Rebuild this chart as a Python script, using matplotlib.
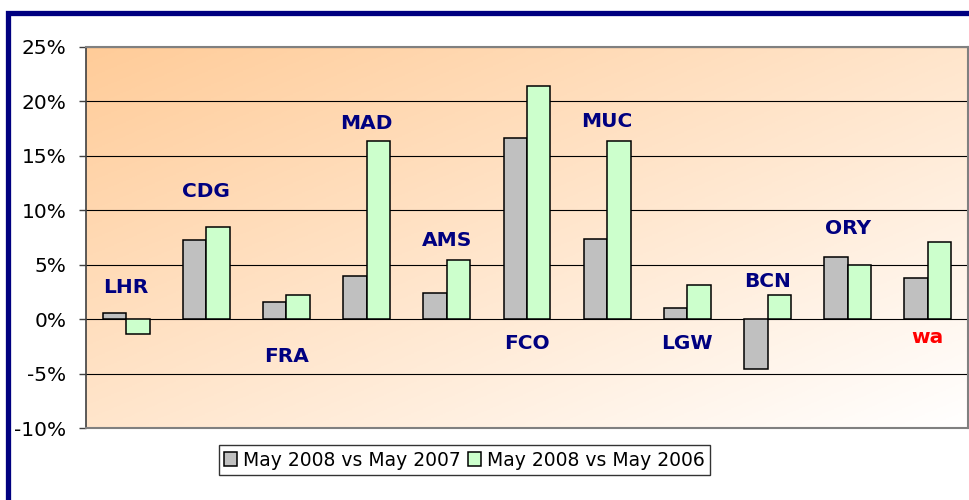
import numpy as np
import matplotlib.pyplot as plt
from matplotlib.patches import Rectangle
from matplotlib.colors import LinearSegmentedColormap
from matplotlib.ticker import FuncFormatter

airports = ['LHR', 'CDG', 'FRA', 'MAD', 'AMS', 'FCO', 'MUC', 'LGW', 'BCN', 'ORY', 'wa']
vs2007 = [0.6, 7.3, 1.6, 4.0, 2.4, 16.6, 7.4, 1.0, -4.6, 5.7, 3.8]
vs2006 = [-1.4, 8.5, 2.2, 16.4, 5.4, 21.4, 16.4, 3.1, 2.2, 5.0, 7.1]
label_y = [2.9, 11.7, -3.4, 18.0, 7.2, -2.2, 18.2, -2.2, 3.5, 8.3, -1.7]
label_col = ['#000080'] * 10 + ['#FF0000']
series = ['May 2008 vs May 2007', 'May 2008 vs May 2006']

fig = plt.figure(figsize=(9.7, 5.0), dpi=100)
ax = fig.add_axes([86/970, 72/500, 882/970, 381/500])

# diagonal gradient background, orange top-left -> white bottom-right
u, v = np.meshgrid(np.linspace(0, 1, 300), np.linspace(0, 1, 300))
grad = (u + v) / 2
cmap = LinearSegmentedColormap.from_list('bg', ['#FFCC99', '#FFFFFF'])
ax.imshow(grad, cmap=cmap, extent=[0, 1, 0, 1], origin='upper',
          transform=ax.transAxes, aspect='auto', zorder=0)

x = np.arange(len(airports))
w = 0.293
ax.bar(x - w/2, vs2007, w, color='#C0C0C0', edgecolor='black', linewidth=1.1,
       label=series[0], zorder=3)
ax.bar(x + w/2, vs2006, w, color='#CCFFCC', edgecolor='black', linewidth=1.1,
       label=series[1], zorder=3)

for i, name in enumerate(airports):
    ax.text(x[i], label_y[i], name, ha='center', va='center', fontsize=14.5,
            fontweight='bold', color=label_col[i], zorder=4)

ax.set_xlim(-0.5, len(airports) - 0.5)
ax.set_ylim(-10, 25)
ax.set_yticks(np.arange(-10, 26, 5))
ax.yaxis.set_major_formatter(FuncFormatter(lambda val, p: f'{val:.0f}%'))
ax.tick_params(axis='y', labelsize=14.5, length=5, width=1, pad=9, color='#404040')
ax.set_xticks([])
ax.grid(axis='y', color='black', linewidth=0.8, zorder=1)
ax.set_axisbelow(True)

for s in ['top', 'right', 'bottom']:
    ax.spines[s].set_color('#808080')
    ax.spines[s].set_linewidth(1.5)
ax.spines['left'].set_color('#404040')
ax.spines['left'].set_linewidth(1.2)

leg = fig.legend(loc='center', bbox_to_anchor=(464.5/970, 0.08), ncol=2,
                 fontsize=13.5, frameon=True, fancybox=False, edgecolor='black',
                 handlelength=0.7, handleheight=0.7, handletextpad=0.3,
                 columnspacing=0.4, borderpad=0.3)
leg.get_frame().set_linewidth(1.0)

# navy frame around the chart, cut off at right and bottom
fig.patches.append(Rectangle((8.5/970, -0.5), 2.0, 0.5 + (500 - 12.5)/500,
                             transform=fig.transFigure, fill=False,
                             edgecolor='#000080', linewidth=3.8))

fig.savefig('out.png', dpi=100)
